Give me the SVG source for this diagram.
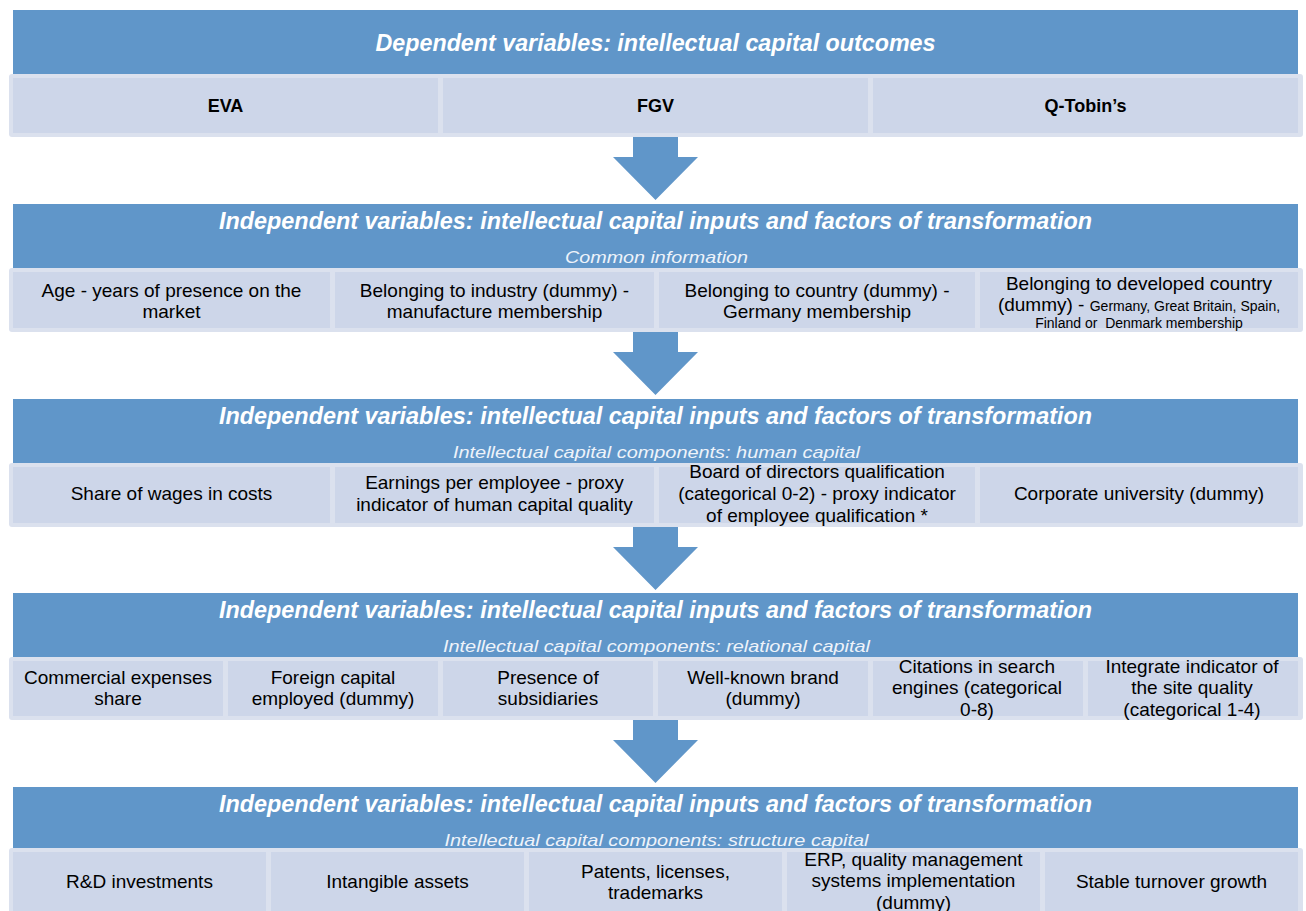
<svg xmlns="http://www.w3.org/2000/svg" width="1306" height="911" viewBox="0 0 1306 911">
  <style>
    .hdr { fill: #6096c9; }
    .row { fill: #dbe1ee; }
    .cell { fill: #cdd6e9; }
    .arrow { fill: #6096c9; }
    .title { font-family: "Liberation Sans", Arial, sans-serif; font-weight: bold; font-style: italic; font-size: 23px; fill: #ffffff; text-anchor: middle; }
    .sub { font-family: "Liberation Sans", Arial, sans-serif; font-style: italic; font-size: 17px; fill: #eef3fa; text-anchor: middle; }
    .txt { font-family: "Liberation Sans", Arial, sans-serif; font-size: 19px; fill: #000000; text-anchor: middle; }
    .bold { font-family: "Liberation Sans", Arial, sans-serif; font-weight: bold; font-size: 18px; fill: #000000; text-anchor: middle; }
    .small { font-size: 14px; }
  </style>
  <rect width="1306" height="911" fill="#ffffff"/>

  <!-- connectors: downward block arrows between bands -->
  <g id="connectors">
    <polygon class="arrow" points="633,135 678,135 678,157 698,157 655.5,200 613,157 633,157"/>
    <polygon class="arrow" points="633,330 678,330 678,352 698,352 655.5,395 613,352 633,352"/>
    <polygon class="arrow" points="633,525 678,525 678,547 698,547 655.5,590 613,547 633,547"/>
    <polygon class="arrow" points="633,718 678,718 678,740 698,740 655.5,783 613,740 633,740"/>
  </g>

  <!-- band 1: dependent variables -->
  <g id="dependent">
    <rect class="hdr" x="13" y="10" width="1285" height="64"/>
    <text class="title" x="655.5" y="51" textLength="560" lengthAdjust="spacingAndGlyphs">Dependent variables: intellectual capital outcomes</text>
    <rect class="row" x="9" y="74" width="1294" height="63" rx="3"/>
    <g id="dep-eva"><rect class="cell" x="13" y="78" width="425" height="55"/><text class="bold" x="225.5" y="112">EVA</text></g>
    <g id="dep-fgv"><rect class="cell" x="443" y="78" width="425" height="55"/><text class="bold" x="655.5" y="112">FGV</text></g>
    <g id="dep-qtobin"><rect class="cell" x="873" y="78" width="425" height="55"/><text class="bold" x="1085.5" y="112">Q-Tobin’s</text></g>
  </g>

  <!-- band 2: common information -->
  <g id="common">
    <rect class="hdr" x="13" y="204" width="1285" height="64"/>
    <text class="title" x="655.5" y="229" textLength="873" lengthAdjust="spacingAndGlyphs">Independent variables: intellectual capital inputs and factors of transformation</text>
    <text class="sub" x="656.5" y="263" textLength="183" lengthAdjust="spacingAndGlyphs">Common information</text>
    <rect class="row" x="9" y="268" width="1294" height="64" rx="3"/>
    <g id="common-age"><rect class="cell" x="13" y="272" width="317" height="56"/>
      <text class="txt" x="171.5" y="297">Age - years of presence on the</text>
      <text class="txt" x="171.5" y="318">market</text></g>
    <g id="common-industry"><rect class="cell" x="335" y="272" width="319" height="56"/>
      <text class="txt" x="494.5" y="297">Belonging to industry (dummy) -</text>
      <text class="txt" x="494.5" y="318">manufacture membership</text></g>
    <g id="common-country"><rect class="cell" x="659" y="272" width="316" height="56"/>
      <text class="txt" x="817" y="297">Belonging to country (dummy) -</text>
      <text class="txt" x="817" y="318">Germany membership</text></g>
    <g id="common-developed"><rect class="cell" x="980" y="272" width="318" height="56"/>
      <text class="txt" x="1139" y="290">Belonging to developed country</text>
      <text class="txt" x="1139" y="311">(dummy) - <tspan class="small">Germany, Great Britain, Spain,</tspan></text>
      <text class="txt small" x="1139" y="328">Finland or&#160; Denmark membership</text></g>
  </g>

  <!-- band 3: human capital -->
  <g id="human">
    <rect class="hdr" x="13" y="399" width="1285" height="64"/>
    <text class="title" x="655.5" y="424" textLength="873" lengthAdjust="spacingAndGlyphs">Independent variables: intellectual capital inputs and factors of transformation</text>
    <text class="sub" x="656.5" y="458" textLength="407" lengthAdjust="spacingAndGlyphs">Intellectual capital components: human capital</text>
    <rect class="row" x="9" y="463" width="1294" height="64" rx="3"/>
    <g id="human-wages"><rect class="cell" x="13" y="467" width="317" height="56"/>
      <text class="txt" x="171.5" y="500">Share of wages in costs</text></g>
    <g id="human-earnings"><rect class="cell" x="335" y="467" width="319" height="56"/>
      <text class="txt" x="494.5" y="489">Earnings per employee - proxy</text>
      <text class="txt" x="494.5" y="511">indicator of human capital quality</text></g>
    <g id="human-board"><rect class="cell" x="659" y="467" width="316" height="56"/>
      <text class="txt" x="817" y="478">Board of directors qualification</text>
      <text class="txt" x="817" y="500">(categorical 0-2) - proxy indicator</text>
      <text class="txt" x="817" y="522">of employee qualification *</text></g>
    <g id="human-university"><rect class="cell" x="980" y="467" width="318" height="56"/>
      <text class="txt" x="1139" y="500">Corporate university (dummy)</text></g>
  </g>

  <!-- band 4: relational capital -->
  <g id="relational">
    <rect class="hdr" x="13" y="593" width="1285" height="64"/>
    <text class="title" x="655.5" y="618" textLength="873" lengthAdjust="spacingAndGlyphs">Independent variables: intellectual capital inputs and factors of transformation</text>
    <text class="sub" x="656.5" y="652" textLength="427" lengthAdjust="spacingAndGlyphs">Intellectual capital components: relational capital</text>
    <rect class="row" x="9" y="657" width="1294" height="63" rx="3"/>
    <g id="rel-commercial"><rect class="cell" x="13" y="661" width="210" height="55"/>
      <text class="txt" x="118" y="684">Commercial expenses</text>
      <text class="txt" x="118" y="705">share</text></g>
    <g id="rel-foreign"><rect class="cell" x="228" y="661" width="210" height="55"/>
      <text class="txt" x="333" y="684">Foreign capital</text>
      <text class="txt" x="333" y="705">employed (dummy)</text></g>
    <g id="rel-subsidiaries"><rect class="cell" x="443" y="661" width="210" height="55"/>
      <text class="txt" x="548" y="684">Presence of</text>
      <text class="txt" x="548" y="705">subsidiaries</text></g>
    <g id="rel-brand"><rect class="cell" x="658" y="661" width="210" height="55"/>
      <text class="txt" x="763" y="684">Well-known brand</text>
      <text class="txt" x="763" y="705">(dummy)</text></g>
    <g id="rel-citations"><rect class="cell" x="873" y="661" width="210" height="55"/>
      <text class="txt" x="977" y="673">Citations in search</text>
      <text class="txt" x="977" y="694">engines (categorical</text>
      <text class="txt" x="977" y="716">0-8)</text></g>
    <g id="rel-site"><rect class="cell" x="1088" y="661" width="210" height="55"/>
      <text class="txt" x="1192" y="673">Integrate indicator of</text>
      <text class="txt" x="1192" y="694">the site quality</text>
      <text class="txt" x="1192" y="716">(categorical 1-4)</text></g>
  </g>

  <!-- band 5: structure capital -->
  <g id="structure">
    <rect class="hdr" x="13" y="787" width="1285" height="63"/>
    <text class="title" x="655.5" y="812" textLength="873" lengthAdjust="spacingAndGlyphs">Independent variables: intellectual capital inputs and factors of transformation</text>
    <text class="sub" x="656.5" y="846" textLength="424" lengthAdjust="spacingAndGlyphs">Intellectual capital components: structure capital</text>
    <rect class="row" x="9" y="848" width="1294" height="70" rx="3"/>
    <g id="str-rd"><rect class="cell" x="13" y="852" width="253" height="62"/>
      <text class="txt" x="139.5" y="888">R&amp;D investments</text></g>
    <g id="str-intangible"><rect class="cell" x="271" y="852" width="253" height="62"/>
      <text class="txt" x="397.5" y="888">Intangible assets</text></g>
    <g id="str-patents"><rect class="cell" x="529" y="852" width="253" height="62"/>
      <text class="txt" x="655.5" y="878">Patents, licenses,</text>
      <text class="txt" x="655.5" y="899">trademarks</text></g>
    <g id="str-erp"><rect class="cell" x="787" y="852" width="253" height="62"/>
      <text class="txt" x="913.5" y="866">ERP, quality management</text>
      <text class="txt" x="913.5" y="887">systems implementation</text>
      <text class="txt" x="913.5" y="909">(dummy)</text></g>
    <g id="str-turnover"><rect class="cell" x="1045" y="852" width="253" height="62"/>
      <text class="txt" x="1171.5" y="888">Stable turnover growth</text></g>
  </g>
</svg>
